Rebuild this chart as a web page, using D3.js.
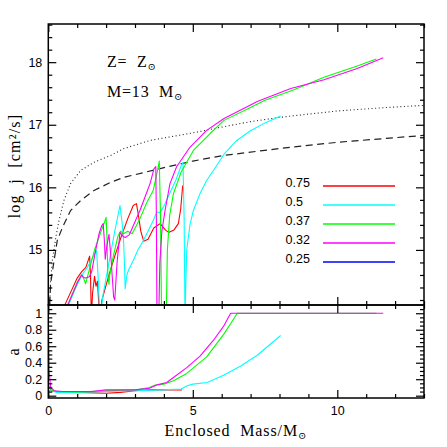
<!DOCTYPE html>
<html>
<head>
<meta charset="utf-8">
<script src="https://cdn.jsdelivr.net/npm/d3@7"></script>
<style>
  body { margin: 0; background: #fff; }
  text { font-family: "Liberation Sans", Arial, sans-serif; }
  .serif { font-family: "Liberation Serif", "DejaVu Serif", serif; }
</style>
</head>
<body>
<div id="plot"></div>
<script>
// tick labels
var massTicks = [0, 5, 10];
var jTicks = [15, 16, 17, 18];
var aTicks = [0, 0.2, 0.4, 0.6, 0.8, 1];

// legend
var legendLabels = ["0.75", "0.5", "0.37", "0.32", "0.25"];
var legendColors = ["#ff0000", "#00ffff", "#00ff00", "#ff00ff", "#0000ff"];

// reference curves [mass, log j]
var jDotted = [[0.05,14.14],[0.08,14.51],[0.14,14.83],[0.26,15.2],[0.37,15.47],[0.54,15.79],[0.77,16.06],[1.12,16.27],[1.58,16.4],[2.16,16.51],[2.62,16.62],[3.52,16.75],[5.0,16.87],[6.08,16.97],[7.0,17.05],[8.04,17.12],[9.0,17.17],[10.0,17.22],[11.5,17.27],[13.0,17.31]];
var jDashed = [[0.05,14.14],[0.08,14.46],[0.2,14.83],[0.31,15.15],[0.49,15.36],[0.77,15.63],[1.12,15.79],[1.58,15.95],[2.16,16.08],[2.62,16.16],[3.87,16.3],[5.0,16.42],[6.08,16.51],[8.0,16.62],[10.0,16.72],[13.0,16.83]];

// log j profiles [mass, log j]
var jRed = [[0.45,14.0],[0.6,14.15],[0.8,14.35],[1.0,14.55],[1.15,14.65],[1.3,14.72],[1.43,14.9],[1.46,14.6],[1.49,13.9],[1.53,14.3],[1.6,14.58],[1.65,14.42],[1.7,14.5],[1.76,14.05],[1.79,13.9],[1.85,14.19],[2.1,14.6],[2.3,14.9],[2.53,15.22],[2.75,15.5],[2.94,15.71],[3.05,15.74],[3.12,15.55],[3.2,15.3],[3.3,15.14],[3.45,15.17],[3.65,15.35],[3.87,15.42],[4.05,15.32],[4.16,15.28],[4.35,15.32],[4.5,15.42],[4.58,15.65],[4.65,16.03]];
var jCyan = [[0.55,13.9],[0.7,14.12],[1.0,14.45],[1.2,14.62],[1.35,14.72],[1.5,14.85],[1.67,14.99],[1.72,14.6],[1.79,13.9],[1.9,14.3],[2.1,14.8],[2.3,15.3],[2.48,15.71],[2.55,15.45],[2.6,15.2],[2.63,14.85],[2.66,14.38],[2.72,14.6],[2.77,14.67],[2.94,14.83],[3.1,15.0],[3.29,15.15],[3.45,15.3],[3.63,15.47],[3.75,15.6],[3.87,15.6],[4.0,15.7],[4.2,15.9],[4.4,16.1],[4.6,16.35],[4.66,16.4],[4.7,15.5],[4.73,13.9],[4.76,14.5],[4.79,14.99],[4.9,15.4],[5.02,15.63],[5.25,15.9],[5.48,16.11],[5.8,16.33],[6.08,16.53],[6.5,16.74],[6.98,16.9],[7.5,17.03],[8.04,17.14]];
var jGreen = [[0.5,13.95],[0.7,14.15],[1.0,14.48],[1.15,14.6],[1.22,14.55],[1.29,14.46],[1.4,14.65],[1.6,15.0],[1.83,15.3],[1.95,15.45],[2.0,15.52],[2.03,15.2],[2.06,14.6],[2.1,14.45],[2.12,14.58],[2.25,14.9],[2.41,15.22],[2.5,15.3],[2.6,15.26],[2.75,15.3],[2.9,15.26],[3.17,15.5],[3.4,15.75],[3.63,15.95],[3.75,16.2],[3.84,16.42],[3.88,15.6],[3.92,13.9],[4.08,13.9],[4.12,15.0],[4.2,15.55],[4.33,15.9],[4.6,16.25],[5.02,16.59],[5.6,16.86],[6.08,17.07],[6.98,17.27],[7.5,17.39],[8.5,17.56],[9.54,17.76],[10.69,17.94],[11.35,18.05]];
var jMagenta = [[0.5,13.95],[0.7,14.15],[1.0,14.47],[1.15,14.6],[1.22,14.56],[1.3,14.55],[1.42,14.57],[1.5,14.65],[1.62,14.95],[1.75,15.25],[1.85,15.39],[1.9,15.42],[1.94,15.15],[1.97,14.85],[2.02,15.05],[2.1,15.25],[2.18,14.8],[2.26,14.25],[2.3,14.2],[2.38,14.8],[2.48,15.28],[2.58,15.22],[2.66,15.2],[2.8,15.24],[3.0,15.45],[3.17,15.63],[3.35,15.85],[3.52,16.06],[3.66,16.3],[3.72,16.33],[3.74,15.5],[3.76,13.9],[3.82,13.9],[3.86,14.8],[3.93,15.3],[4.04,15.63],[4.21,16.06],[4.44,16.33],[4.9,16.64],[5.48,16.91],[6.08,17.1],[6.98,17.31],[7.23,17.37],[8.39,17.58],[9.54,17.72],[10.69,17.9],[11.59,18.07]];

// a profiles [mass, a]
var aRed = [[0.03,0.1],[0.1,0.06],[0.3,0.05],[1.0,0.04],[2.0,0.03],[2.5,0.04],[3.0,0.06],[3.5,0.07],[4.0,0.07],[4.62,0.07]];
var aCyan = [[0.03,0.12],[0.1,0.06],[0.3,0.04],[1.0,0.04],[2.0,0.05],[3.0,0.06],[4.0,0.07],[4.6,0.08],[4.8,0.12],[5.0,0.14],[5.5,0.16],[6.08,0.25],[6.66,0.36],[7.23,0.49],[8.04,0.73]];
var aGreen = [[0.03,0.12],[0.1,0.07],[0.3,0.05],[1.0,0.045],[2.0,0.06],[3.0,0.07],[3.5,0.1],[3.7,0.13],[4.0,0.14],[4.33,0.18],[4.79,0.27],[5.48,0.47],[6.08,0.75],[6.54,1.0],[11.35,1.0]];
var aMagenta = [[0,1],[0.03,0.3],[0.08,0.1],[0.2,0.06],[0.5,0.05],[1.0,0.05],[1.5,0.05],[2.0,0.07],[2.5,0.07],[3.0,0.07],[3.5,0.09],[3.75,0.13],[3.87,0.14],[4.1,0.16],[4.33,0.22],[4.79,0.34],[5.25,0.48],[5.71,0.67],[6.08,0.85],[6.31,1.0],[11.59,1.0]];

var width = 447, height = 447;
var padLeft = 48.3, padRight = 424, padTop = 24, padMid = 305, padBottom = 398;

var svg = d3.select("#plot").append("svg")
    .attr("width", width)
    .attr("height", height);

var x = d3.scaleLinear().domain([0, 13]).range([padLeft, padRight]);
var yj = d3.scaleLinear().domain([14.12, 18.61]).range([padMid, padTop]);
var ya = d3.scaleLinear().domain([-0.028, 1.1]).range([padBottom, padMid]);

// clipping for both panels
var defs = svg.append("defs");
defs.append("clipPath").attr("id", "clipTop").append("rect")
    .attr("x", padLeft).attr("y", padTop).attr("width", padRight - padLeft).attr("height", padMid - padTop);
defs.append("clipPath").attr("id", "clipBot").append("rect")
    .attr("x", padLeft).attr("y", padMid).attr("width", padRight - padLeft).attr("height", padBottom - padMid);

var lineJ = d3.line().x(function(d) { return x(d[0]); }).y(function(d) { return yj(d[1]); });
var lineA = d3.line().x(function(d) { return x(d[0]); }).y(function(d) { return ya(d[1]); });

// upper panel curves
var gTop = svg.append("g").attr("clip-path", "url(#clipTop)");
gTop.append("path").datum(jDotted).attr("d", lineJ)
    .attr("fill", "none").attr("stroke", "#222").attr("stroke-width", 1.1)
    .attr("stroke-dasharray", "1,2.6");
gTop.append("path").datum(jDashed).attr("d", lineJ)
    .attr("fill", "none").attr("stroke", "#222").attr("stroke-width", 1.2)
    .attr("stroke-dasharray", "7,4.5");

var jSeries = [jRed, jCyan, jGreen, jMagenta];
gTop.selectAll(".jline")
    .data(jSeries)
  .enter().append("path")
    .attr("class", "jline")
    .attr("d", lineJ)
    .attr("fill", "none")
    .attr("stroke", function(d, i) { return legendColors[i]; })
    .attr("stroke-width", 1.1)
    .attr("stroke-linejoin", "round");

// lower panel curves
var gBot = svg.append("g").attr("clip-path", "url(#clipBot)");
var aSeries = [aRed, aCyan, aGreen, aMagenta];
gBot.selectAll(".aline")
    .data(aSeries)
  .enter().append("path")
    .attr("class", "aline")
    .attr("d", lineA)
    .attr("fill", "none")
    .attr("stroke", function(d, i) { return legendColors[i]; })
    .attr("stroke-width", 1.1)
    .attr("stroke-linejoin", "round");

// ticks: major and minor on every side, pointing inward
var majorLen = 8, minorLen = 4;
var xMinor = d3.range(0, 14, 1).filter(function(v) { return massTicks.indexOf(v) < 0; });
var jMinor = d3.range(14.2, 18.61, 0.2).map(function(v) { return Math.round(v * 10) / 10; })
    .filter(function(v) { return jTicks.indexOf(v) < 0; });
var aMinor = d3.range(0, 1.1, 0.05).map(function(v) { return Math.round(v * 100) / 100; })
    .filter(function(v) { return aTicks.indexOf(v) < 0; });

function addAxis(axis, tx, ty, labels) {
    var g = svg.append("g")
        .attr("transform", "translate(" + tx + "," + ty + ")")
        .call(axis);
    g.select(".domain").remove();
    g.selectAll("line").attr("stroke", "#000").attr("stroke-width", 1.2);
    g.selectAll("text").attr("fill", "#000").style("font-size", "12.5px")
        .style("font-family", "'Liberation Sans', Arial, sans-serif");
    if (!labels) g.selectAll("text").remove();
    return g;
}

// upper panel
addAxis(d3.axisLeft(yj).tickValues(jTicks).tickSize(-majorLen).tickPadding(6).tickFormat(d3.format("d")), padLeft, 0, true);
addAxis(d3.axisLeft(yj).tickValues(jMinor).tickSize(-minorLen), padLeft, 0, false);
addAxis(d3.axisRight(yj).tickValues(jTicks).tickSize(-majorLen), padRight, 0, false);
addAxis(d3.axisRight(yj).tickValues(jMinor).tickSize(-minorLen), padRight, 0, false);
addAxis(d3.axisTop(x).tickValues(massTicks).tickSize(-majorLen), 0, padTop, false);
addAxis(d3.axisTop(x).tickValues(xMinor).tickSize(-minorLen), 0, padTop, false);
addAxis(d3.axisBottom(x).tickValues(massTicks).tickSize(-majorLen), 0, padMid, false);
addAxis(d3.axisBottom(x).tickValues(xMinor).tickSize(-minorLen), 0, padMid, false);

// lower panel
addAxis(d3.axisLeft(ya).tickValues(aTicks).tickSize(-majorLen).tickPadding(6).tickFormat(function(d) { return d === 0 || d === 1 ? d : d.toFixed(1); }), padLeft, 0, true);
addAxis(d3.axisLeft(ya).tickValues(aMinor).tickSize(-minorLen), padLeft, 0, false);
addAxis(d3.axisRight(ya).tickValues(aTicks).tickSize(-majorLen), padRight, 0, false);
addAxis(d3.axisRight(ya).tickValues(aMinor).tickSize(-minorLen), padRight, 0, false);
addAxis(d3.axisTop(x).tickValues(massTicks).tickSize(-majorLen), 0, padMid, false);
addAxis(d3.axisTop(x).tickValues(xMinor).tickSize(-minorLen), 0, padMid, false);
addAxis(d3.axisBottom(x).tickValues(massTicks).tickSize(-majorLen).tickPadding(8), 0, padBottom, true);
addAxis(d3.axisBottom(x).tickValues(xMinor).tickSize(-minorLen), 0, padBottom, false);

// frames
svg.append("rect").attr("x", padLeft).attr("y", padTop).attr("width", padRight - padLeft).attr("height", padMid - padTop)
    .attr("fill", "none").attr("stroke", "#000").attr("stroke-width", 1.5);
svg.append("rect").attr("x", padLeft).attr("y", padMid).attr("width", padRight - padLeft).attr("height", padBottom - padMid)
    .attr("fill", "none").attr("stroke", "#000").attr("stroke-width", 1.5);

// legend
var legend = svg.selectAll(".legend")
    .data(legendLabels)
  .enter().append("g")
    .attr("class", "legend")
    .attr("transform", function(d, i) { return "translate(0," + (186 + i * 19) + ")"; });

legend.append("text")
    .attr("x", 285.5)
    .attr("y", 1)
    .style("font-size", "12.5px")
    .text(function(d) { return d; });

legend.append("line")
    .attr("x1", 323).attr("x2", 395)
    .attr("stroke", function(d, i) { return legendColors[i]; })
    .attr("stroke-width", 1.3);

// annotations
var z = svg.append("text").attr("class", "serif")
    .attr("x", 107).attr("y", 67)
    .style("font-size", "16px").style("letter-spacing", "0.8px").attr("xml:space", "preserve");
z.append("tspan").text("Z=  Z");
z.append("tspan").attr("dy", 3).style("font-size", "10px").text("⊙");

var mm = svg.append("text").attr("class", "serif")
    .attr("x", 107).attr("y", 97)
    .style("font-size", "16px").style("letter-spacing", "0.8px").attr("xml:space", "preserve");
mm.append("tspan").text("M=13  M");
mm.append("tspan").attr("dy", 3).style("font-size", "10px").text("⊙");

// axis titles
svg.append("text").attr("class", "serif")
    .attr("transform", "translate(20,166) rotate(-90)")
    .attr("text-anchor", "middle")
    .attr("xml:space", "preserve")
    .style("font-size", "16px")
    .style("letter-spacing", "1.2px")
    .text("log  j  [cm²/s]");

svg.append("text").attr("class", "serif")
    .attr("transform", "translate(19,352) rotate(-90)")
    .attr("text-anchor", "middle")
    .style("font-size", "16px")
    .text("a");

var xl = svg.append("text").attr("class", "serif")
    .attr("x", 236).attr("y", 436)
    .attr("text-anchor", "middle")
    .attr("xml:space", "preserve")
    .style("font-size", "16px")
    .style("letter-spacing", "0.9px");
xl.append("tspan").text("Enclosed  Mass/M");
xl.append("tspan").attr("dy", 3).style("font-size", "10px").text("⊙");
</script>
</body>
</html>
